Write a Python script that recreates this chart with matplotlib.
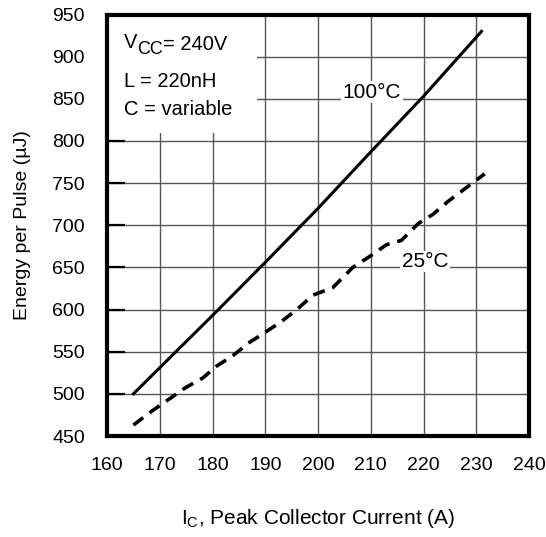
import matplotlib
matplotlib.use("Agg")
import matplotlib.pyplot as plt
from matplotlib.patches import Rectangle

plt.rcParams['font.family'] = ['Liberation Sans', 'DejaVu Sans']
plt.rcParams['mathtext.fontset'] = 'custom'
plt.rcParams['mathtext.rm'] = 'Liberation Sans'
plt.rcParams['mathtext.it'] = 'Liberation Sans'

# Datos
ic_100 = [165, 170, 180, 190, 200, 210, 220, 231]
e_100 = [500, 531, 593, 656, 720, 787, 853, 930]

ic_25 = [165, 168.6, 171.6, 174.8, 178.2, 180.8, 184, 187, 190, 193.1, 196, 199, 202.8,
         206.6, 209.8, 213, 215.8, 219, 221.8, 224.6, 228.2, 231.6]
e_25 = [463, 480, 493, 507, 519, 533, 546, 561, 573, 586, 600, 617, 626,
        650, 663, 677, 682, 702, 713, 728, 745, 761]

x_ticks = [160, 170, 180, 190, 200, 210, 220, 230, 240]
y_ticks = [450, 500, 550, 600, 650, 700, 750, 800, 850, 900, 950]

fig = plt.figure(figsize=(5.46, 5.37), dpi=100)
ax = fig.add_axes([107 / 546, 1 - 436 / 537, 422 / 546, 421.5 / 537])

# Curvas
ax.plot(ic_100, e_100, color='black', lw=2.2, zorder=5)
ax.plot(ic_25, e_25, color='black', lw=2.6, dashes=(3.4, 2.2), zorder=5)

ax.set_xlim(160, 240)
ax.set_ylim(450, 950)
ax.set_xticks(x_ticks)
ax.set_yticks(y_ticks)
ax.grid(True, color='#555555', lw=1.0)
ax.set_axisbelow(True)

for s in ax.spines.values():
    s.set_linewidth(3.0)
    s.set_zorder(6)

ax.tick_params(axis='x', length=0, pad=15, labelsize=14)
ax.tick_params(axis='y', direction='in', length=13, width=1.6, pad=16, labelsize=14)

# Caja de condiciones de prueba
ax.add_patch(Rectangle((160, 810), 28.4, 140, facecolor='white', edgecolor='none', zorder=3))
ax.text(163.2, 910, 'V', fontsize=14.5, va='baseline', zorder=4)
ax.text(165.7, 903, 'CC', fontsize=13, va='baseline', zorder=4)
ax.text(170.6, 908, '= 240V', fontsize=14.5, va='baseline', zorder=4)
ax.text(163.2, 864, 'L = 220nH', fontsize=14.5, va='baseline', zorder=4)
ax.text(163.2, 831, 'C = variable', fontsize=14.5, va='baseline', zorder=4)

# Etiquetas de las curvas
ax.text(210.2, 858, '100°C', fontsize=15, ha='center', va='center', zorder=4,
        bbox=dict(facecolor='white', edgecolor='none', pad=1))
ax.text(220.3, 657, '25°C', fontsize=15, ha='center', va='center', zorder=4,
        bbox=dict(facecolor='white', edgecolor='none', pad=1))

ax.set_xlabel(r'I$_{\mathregular{C}}$, Peak Collector Current (A)', fontsize=15, labelpad=24)
ax.set_ylabel('Energy per Pulse (µJ)', fontsize=14, labelpad=15)

fig.savefig('out.png', dpi=100)
